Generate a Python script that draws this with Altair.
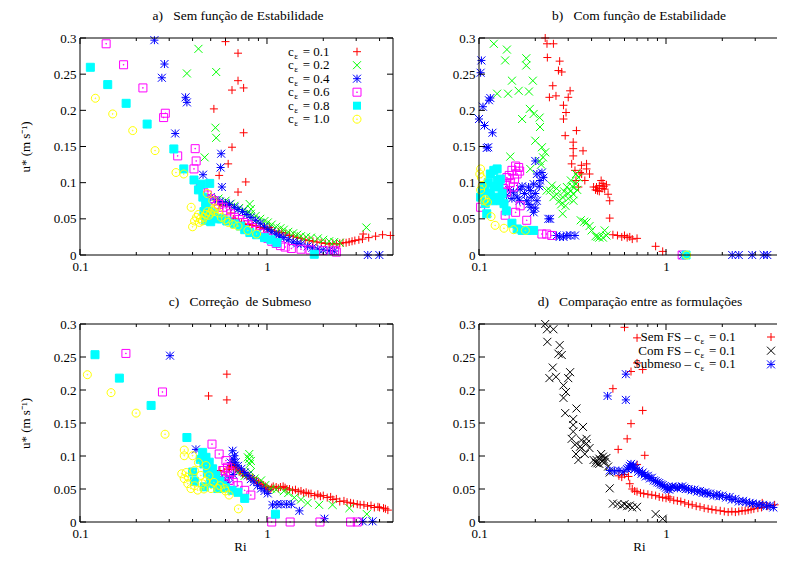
import altair as alt
import pandas as pd

FONT = "Liberation Serif"

# ---------------- data: (Ri, u*) pairs ----------------
# Panel a - without stability function
A_C01 = [(0.60,0.295),(0.70,0.279),(0.70,0.241),(0.65,0.228),(0.75,0.231),(0.52,0.202),(0.75,0.169),
         (0.65,0.149),(0.62,0.126),(0.555,0.110),(0.77,0.101),(0.70,0.087),
         (0.56,0.070),(0.58,0.068),(0.60,0.072),(0.63,0.069),(0.64,0.058),(0.66,0.050),(0.68,0.047),
         (0.70,0.046),(0.73,0.044),(0.76,0.043),(0.80,0.042),(0.84,0.041),(0.88,0.040),(0.92,0.038),
         (0.96,0.037),(1.00,0.036),(1.03,0.038),(1.05,0.035),(1.10,0.033),(1.15,0.032),(1.20,0.031),
         (1.26,0.029),(1.32,0.027),(1.38,0.026),(1.45,0.024),(1.52,0.023),(1.60,0.021),(1.68,0.020),
         (1.76,0.019),(1.85,0.018),(1.95,0.017),(2.05,0.016),(2.15,0.015),(2.25,0.016),(2.35,0.015),
         (2.45,0.016),(2.55,0.017),(2.65,0.017),(2.75,0.018),(2.85,0.019),(2.95,0.020),(3.10,0.021),
         (3.24,0.022),(3.27,0.029),(3.50,0.024),(3.81,0.026),(4.15,0.028),(4.57,0.027)]
A_C02 = [(0.43,0.285),(0.373,0.251),(0.535,0.253),(0.53,0.176),(0.535,0.162),(0.464,0.135),
         (0.808,0.0705),(0.82,0.0636),
         (0.55,0.078),(0.60,0.075),(0.64,0.071),(0.67,0.068),(0.71,0.065),(0.75,0.062),(0.79,0.059),
         (0.82,0.057),(0.87,0.054),(0.92,0.050),(0.97,0.047),(1.01,0.045),(1.06,0.042),(1.12,0.039),
         (1.18,0.037),(1.23,0.035),(1.30,0.032),(1.38,0.030),(1.45,0.028),(1.52,0.026),(1.62,0.025),
         (1.72,0.024),(1.87,0.023),(2.00,0.021),(2.15,0.019),(2.29,0.018),(2.45,0.017),(3.40,0.038)]
A_C04 = [(0.25,0.297),(0.283,0.264),(0.274,0.245),(0.367,0.218),(0.373,0.211),(0.323,0.168),
         (0.569,0.140),(0.565,0.121),(0.574,0.094),(0.455,0.111),
         (0.50,0.080),(0.53,0.076),(0.56,0.074),(0.60,0.072),(0.63,0.070),(0.67,0.066),(0.70,0.063),
         (0.74,0.060),(0.78,0.056),(0.82,0.052),(0.87,0.048),(0.92,0.044),(0.97,0.039),(1.01,0.035),
         (1.06,0.032),(1.12,0.029),(1.17,0.026),(1.23,0.024),(1.30,0.021),(1.38,0.018),(1.45,0.016),
         (1.52,0.015),(1.65,0.012),(1.75,0.010),(1.87,0.008),(2.00,0.007),(2.15,0.006),(2.29,0.0055),
         (3.46,0.0),(3.99,0.0)]
A_C06 = [(0.138,0.292),(0.171,0.263),(0.217,0.231),(0.286,0.196),(0.28,0.190),(0.413,0.147),
         (0.418,0.130),(0.333,0.137),(0.407,0.119),
         (0.44,0.092),(0.46,0.086),(0.48,0.083),(0.50,0.078),(0.52,0.075),(0.55,0.070),(0.58,0.066),
         (0.61,0.061),(0.64,0.057),(0.67,0.052),(0.71,0.049),(0.75,0.045),(0.79,0.042),(0.83,0.038),
         (0.87,0.034),(0.92,0.030),(0.97,0.025),(1.01,0.023),(1.06,0.019),(1.12,0.016),(1.18,0.013),
         (1.25,0.011),(1.35,0.009),(1.52,0.008),(1.70,0.007),(2.00,0.006),(2.30,0.0065),(2.35,0.004)]
A_C08 = [(0.1136,0.2595),(0.1407,0.2356),(0.1765,0.2097),(0.2286,0.181),(0.3176,0.1466),
         (0.359,0.119),(0.407,0.1037),(0.445,0.098),(0.494,0.099),
         (0.43,0.090),(0.454,0.080),(0.47,0.072),(0.473,0.066),(0.49,0.060),(0.50,0.052),(0.52,0.057),
         (0.47,0.048),(0.50,0.046),(0.54,0.050),(0.46,0.060),
         (0.57,0.050),(0.61,0.047),(0.67,0.043),(0.72,0.040),(0.76,0.035),(0.81,0.031),(0.88,0.028),
         (0.97,0.024),(1.05,0.021),(1.13,0.017),(1.79,0.001)]
A_C10 = [(0.1208,0.2167),(0.1496,0.195),(0.1914,0.172),(0.252,0.1443),(0.326,0.114),(0.359,0.112),
         (0.393,0.066),(0.40,0.039),
         (0.479,0.085),(0.513,0.075),(0.42,0.052),(0.43,0.056),(0.44,0.050),(0.45,0.047),(0.46,0.052),
         (0.47,0.056),(0.48,0.060),(0.49,0.055),(0.50,0.058),(0.51,0.062),(0.52,0.060),(0.53,0.064),
         (0.55,0.058),(0.41,0.047),(0.435,0.045),
         (0.57,0.052),(0.60,0.049),(0.62,0.045),(0.66,0.042),(0.70,0.040),(0.79,0.034),(0.88,0.029)]

# Panel b - with stability function
B_C01 = [(0.226,0.300),(0.231,0.292),(0.25,0.292),(0.232,0.273),(0.27,0.268),(0.266,0.255),
         (0.277,0.253),(0.248,0.234),(0.238,0.218),(0.258,0.220),(0.307,0.227),(0.30,0.218),
         (0.283,0.207),(0.292,0.197),(0.283,0.188),(0.289,0.165),(0.332,0.172),(0.319,0.156),
         (0.319,0.147),(0.36,0.144),(0.319,0.137),(0.313,0.126),(0.353,0.124),(0.376,0.126),
         (0.376,0.119),(0.347,0.114),(0.326,0.117),(0.354,0.112),(0.39,0.112),(0.33,0.103),
         (0.368,0.103),(0.34,0.094),(0.41,0.094),(0.425,0.094),(0.43,0.089),(0.44,0.096),(0.45,0.103),
         (0.46,0.099),(0.47,0.091),(0.48,0.097),(0.44,0.088),(0.42,0.090),(0.455,0.092),(0.465,0.095),
         (0.49,0.084),(0.50,0.075),(0.50,0.051),
         (0.52,0.028),(0.55,0.027),(0.58,0.025),(0.60,0.027),(0.62,0.024),(0.64,0.025),(0.66,0.022),
         (0.70,0.023),(0.88,0.012),(0.96,0.005)]
B_C02 = [(0.120,0.292),(0.141,0.284),(0.138,0.269),(0.179,0.272),(0.179,0.262),(0.125,0.223),
         (0.150,0.241),(0.194,0.241),(0.143,0.223),(0.163,0.227),(0.185,0.226),(0.17,0.188),
         (0.187,0.202),(0.196,0.195),(0.211,0.190),(0.212,0.177),(0.20,0.158),(0.217,0.149),
         (0.147,0.136),(0.226,0.142),(0.211,0.130),(0.215,0.125),(0.188,0.119),(0.22,0.135),
         (0.23,0.089),(0.24,0.089),(0.25,0.080),(0.26,0.084),(0.27,0.075),(0.28,0.080),(0.29,0.068),
         (0.28,0.057),(0.295,0.094),(0.31,0.089),(0.31,0.103),(0.32,0.075),(0.33,0.098),(0.33,0.112),
         (0.34,0.107),(0.30,0.085),(0.26,0.092),(0.245,0.096),(0.285,0.088),(0.315,0.095),(0.335,0.090),
         (0.32,0.084),(0.275,0.070),(0.30,0.078),
         (0.35,0.048),(0.365,0.046),(0.376,0.045),(0.39,0.040),(0.40,0.034),(0.42,0.026),(0.44,0.024),
         (0.46,0.024),(0.47,0.034),(0.48,0.027),(0.43,0.025)]
B_C04 = [(0.103,0.269),(0.102,0.252),(0.113,0.214),(0.115,0.217),(0.105,0.205),(0.100,0.188),
         (0.107,0.179),(0.118,0.169),(0.112,0.149),(0.110,0.148),
         (0.20,0.130),(0.204,0.112),(0.212,0.103),(0.196,0.098),(0.184,0.094),(0.166,0.091),(0.153,0.087),
         (0.14,0.082),(0.13,0.077),(0.18,0.075),(0.19,0.066),(0.196,0.059),(0.204,0.075),(0.221,0.107),
         (0.217,0.114),(0.188,0.089),(0.175,0.085),(0.16,0.080),(0.17,0.095),(0.15,0.078),(0.20,0.085),
         (0.21,0.095),(0.19,0.080),(0.185,0.070),(0.20,0.065),(0.165,0.075),(0.145,0.090),
         (0.235,0.050),(0.24,0.050),
         (0.26,0.027),(0.27,0.025),(0.283,0.025),(0.295,0.027),(0.307,0.027),(0.326,0.027),
         (1.23,0.0),(2.26,0.0),(2.45,0.0),(2.89,0.0),(3.33,0.0),(3.48,0.0)]
B_C06 = [(0.102,0.066),(0.157,0.123),(0.15,0.117),(0.141,0.107),(0.138,0.098),(0.147,0.100),
         (0.16,0.112),(0.163,0.121),(0.153,0.094),(0.14,0.087),(0.145,0.110),(0.155,0.105),
         (0.135,0.092),(0.165,0.116),(0.138,0.055),(0.18,0.048),(0.166,0.068),(0.157,0.059),
         (0.217,0.029),(0.23,0.029),(0.245,0.027),(1.22,0.0)]
B_C08 = [(0.104,0.089),(0.102,0.080),(0.108,0.071),(0.110,0.057),(0.115,0.112),(0.120,0.117),
         (0.125,0.119),(0.128,0.094),(0.123,0.080),(0.130,0.075),(0.136,0.071),(0.140,0.061),
         (0.115,0.085),(0.125,0.103),(0.118,0.075),(0.112,0.100),(0.120,0.095),(0.130,0.105),
         (0.107,0.094),(0.133,0.085),(0.15,0.044),(0.17,0.034),(0.18,0.034),(0.196,0.034),
         (0.16,0.036),(1.28,0.0)]
B_C10 = [(0.102,0.119),(0.103,0.107),(0.101,0.112),(0.104,0.096),(0.108,0.077),(0.111,0.073),
         (0.106,0.075),(0.102,0.090),(0.116,0.053),(0.122,0.041),(0.136,0.037),(0.153,0.035),
         (0.177,0.034),(1.29,0.0)]

# Panel c - submeso correction
C_C01 = [(0.61,0.224),(0.487,0.191),(0.61,0.185),
         (0.50,0.078),(0.53,0.077),(0.56,0.078),(0.59,0.076),(0.62,0.080),(0.63,0.082),(0.64,0.085),
         (0.65,0.088),(0.66,0.083),(0.67,0.086),(0.68,0.080),(0.69,0.082),(0.71,0.076),(0.72,0.078),
         (0.74,0.073),(0.75,0.075),(0.77,0.072),(0.78,0.069),(0.80,0.070),(0.82,0.066),(0.84,0.067),
         (0.86,0.063),(0.88,0.062),(0.90,0.060),(0.92,0.059),(0.94,0.057),(0.96,0.056),(0.98,0.054),
         (1.00,0.052),(1.02,0.050),(1.04,0.049),(1.06,0.052),(1.08,0.054),(1.12,0.053),(1.15,0.051),
         (1.18,0.053),(1.22,0.054),(1.25,0.052),(1.28,0.050),(1.32,0.050),(1.37,0.048),(1.42,0.049),
         (1.47,0.046),(1.52,0.047),(1.57,0.044),(1.62,0.045),(1.67,0.043),(1.72,0.043),(1.80,0.040),
         (1.87,0.042),(1.93,0.039),(2.00,0.040),(2.10,0.037),(2.19,0.038),(2.25,0.034),(2.35,0.035),
         (2.45,0.031),(2.58,0.032),(2.68,0.030),(2.80,0.029),(2.90,0.028),(3.04,0.027),(3.15,0.026),
         (3.30,0.026),(3.45,0.024),(3.60,0.025),(3.75,0.022),(3.92,0.023),(4.00,0.022),(4.20,0.021),
         (4.30,0.020),(4.43,0.018)]
C_C02 = [(0.804,0.103),(0.804,0.0955),(0.82,0.0925),(0.79,0.098),(0.81,0.088),
         (0.70,0.075),(0.76,0.070),(0.82,0.0757),(0.86,0.066),(0.93,0.063),(0.98,0.056),(1.05,0.0507),
         (1.12,0.049),(1.23,0.0467),(1.30,0.044),(1.40,0.037),(1.52,0.034),(1.65,0.029),(1.90,0.026),
         (2.24,0.026),(2.76,0.021),(3.42,0.012)]
C_C04 = [(0.303,0.252),(0.417,0.110),(0.655,0.108),(0.67,0.1004),(0.66,0.095),(0.64,0.090),
         (0.58,0.065),(0.60,0.060),(0.63,0.068),(0.66,0.072),(0.62,0.057),(0.56,0.062),
         (0.68,0.0906),(0.70,0.085),(0.73,0.0806),(0.76,0.075),(0.79,0.0706),(0.82,0.065),(0.85,0.0607),
         (0.89,0.055),(0.93,0.0507),(0.97,0.047),(1.01,0.0433),(1.07,0.0259),(1.13,0.027),(1.19,0.0269),
         (1.27,0.027),(1.35,0.0269),(1.49,0.0169),(2.03,0.005),(3.25,0.001),(3.67,0.001)]
C_C06 = [(0.176,0.2554),(0.276,0.197),(0.508,0.118),(0.555,0.103),(0.603,0.093),(0.615,0.083),
         (0.64,0.0757),(0.627,0.063),(0.60,0.070),(0.58,0.078),(0.66,0.060),(0.70,0.055),(0.76,0.048),
         (0.82,0.0408),(1.06,0.0),(1.33,0.0),(1.92,0.0),(2.80,0.0),(3.04,0.0)]
C_C08 = [(0.1203,0.2535),(0.1624,0.218),(0.24,0.1766),(0.373,0.128),(0.453,0.1055),(0.472,0.098),
         (0.491,0.0906),(0.512,0.0806),(0.533,0.0706),(0.502,0.0607),(0.545,0.0507),(0.462,0.0533),
         (0.40,0.0757),(0.409,0.0617),(0.44,0.095),(0.46,0.088),(0.48,0.075),(0.50,0.068),(0.52,0.058),
         (0.56,0.062),(0.58,0.055),(0.60,0.052),(0.65,0.048),(0.70,0.045),(0.76,0.0358),(1.11,0.0119)]
C_C10 = [(0.1095,0.2232),(0.1466,0.196),(0.1995,0.165),(0.285,0.133),(0.361,0.109),(0.361,0.1004),
         (0.40,0.1004),(0.35,0.0731),(0.361,0.0657),(0.377,0.0582),(0.392,0.0507),(0.426,0.0483),
         (0.46,0.050),(0.502,0.0507),(0.545,0.0507),(0.592,0.0507),(0.627,0.0408),(0.703,0.0199),
         (0.443,0.0706),(0.409,0.078),(0.472,0.0855),(0.43,0.090),(0.38,0.068),(0.49,0.070),(0.52,0.060),
         (0.41,0.055),(0.47,0.062),(0.56,0.055),(0.60,0.047),(0.45,0.058),(0.37,0.075)]

# Panel d - comparison (same runs as a, b, c with c_eps = 0.1)
D_SEMFS = A_C01
D_COMFS = B_C01
D_SUBMESO = C_C01

# ---------------- axes / styling values ----------------
X_LABELS = [0.1, 1]
X_MAJOR = [0.1, 1]
X_MINOR = [0.2, 0.3, 0.4, 0.5, 0.6, 0.7, 0.8, 0.9, 2, 3, 4]
Y_TICKS = [0, 0.05, 0.1, 0.15, 0.2, 0.25, 0.3]

PLUS = "M-1,0H1M0,-1V1"
CROSS = "M-1,-1L1,1M-1,1L1,-1"
STAR = "M-1,0H1M0,-1V1M-1,-1L1,1M-1,1L1,-1"
BOXDOT = "M-1,-1H1V1H-1Z M-0.08,-0.08H0.08V0.08H-0.08Z"
CIRC = ("M1,0A1,1,0,1,1,-1,0A1,1,0,1,1,1,0Z "
        "M0.1,0A0.1,0.1,0,1,1,-0.1,0A0.1,0.1,0,1,1,0.1,0Z")

KEYS = ["c01", "c02", "c04", "c06", "c08", "c10", "semfs", "comfs", "submeso"]
COLS = ["#ff0000", "#00ff00", "#0000ff", "#ff00ff", "#00ffff", "#ffff00", "#ff0000", "#000000", "#0000ff"]
SHAPES = [PLUS, CROSS, STAR, BOXDOT, "square", CIRC, PLUS, CROSS, STAR]
FILLS = ["transparent"] * 4 + ["#00ffff"] + ["transparent"] * 4
COL = dict(zip(KEYS, COLS))
SHP = dict(zip(KEYS, SHAPES))
FIL = dict(zip(KEYS, FILLS))

YTITLE = "u* (m s\u207b\u00b9)"
NB = "\u00a0"


def panel(series, title, title_x, w, h, xmax, legend, xtitle, ytitle, closed):
    rows = [{"s": k, "ri": r, "u": u} for k, pts in series for r, u in pts]
    df = pd.DataFrame(rows)
    xs = alt.Scale(type="log", domain=[0.1, xmax], nice=False)
    ys = alt.Scale(domain=[0, 0.3], nice=False, zero=False)
    common = dict(ticks=False, tickSize=0, domain=False, grid=False, labelFont=FONT,
                  labelFontSize=13, labelColor="black", titleFont=FONT, titleFontSize=13,
                  titleFontWeight="normal", titleColor="black", format="~g")
    xax = alt.Axis(values=X_LABELS, labelPadding=5, titlePadding=0, labelFlush=False,
                   titleX=160, **common)
    yax = alt.Axis(values=Y_TICKS, labelPadding=4, titlePadding=21, **common)

    def X(field):
        return alt.X(field, scale=xs, axis=xax, title=xtitle)

    def Y(field):
        return alt.Y(field, scale=ys, axis=yax, title=ytitle)

    limit = xmax * 0.985
    pts = alt.Chart(df).transform_filter(alt.datum.ri <= limit).mark_point(
        size=64, strokeWidth=1, opacity=1).encode(
        x=X("ri:Q"), y=Y("u:Q"),
        shape=alt.Shape("s:N", scale=alt.Scale(domain=KEYS, range=SHAPES), legend=None),
        stroke=alt.Stroke("s:N", scale=alt.Scale(domain=KEYS, range=COLS), legend=None),
        fill=alt.Fill("s:N", scale=alt.Scale(domain=KEYS, range=FILLS), legend=None),
    )
    layers = [pts]
    one = pd.DataFrame({"k": [0]})

    # frame
    rule = dict(color="black", strokeWidth=1)
    layers.append(alt.Chart(one).mark_rule(**rule).encode(
        x=alt.value(0), x2=alt.value(w), y=alt.value(0)))
    layers.append(alt.Chart(one).mark_rule(**rule).encode(
        x=alt.value(0), x2=alt.value(w), y=alt.value(h)))
    layers.append(alt.Chart(one).mark_rule(**rule).encode(
        x=alt.value(0), y=alt.value(0), y2=alt.value(h)))
    if closed:
        layers.append(alt.Chart(one).mark_rule(**rule).encode(
            x=alt.value(w), y=alt.value(0), y2=alt.value(h)))

    # inward ticks
    for vals, ln in ((X_MAJOR, 6), (X_MINOR, 3)):
        d = pd.DataFrame({"ri": [v for v in vals if v <= xmax]})
        layers.append(alt.Chart(d).mark_rule(**rule).encode(
            x=X("ri:Q"), y=alt.value(h), y2=alt.value(h - ln)))
        layers.append(alt.Chart(d).mark_rule(**rule).encode(
            x=X("ri:Q"), y=alt.value(0), y2=alt.value(ln)))
    d = pd.DataFrame({"u": Y_TICKS})
    layers.append(alt.Chart(d).mark_rule(**rule).encode(
        y=Y("u:Q"), x=alt.value(0), x2=alt.value(6)))
    if closed:
        layers.append(alt.Chart(d).mark_rule(**rule).encode(
            y=Y("u:Q"), x=alt.value(w), x2=alt.value(w - 6)))

    # panel title
    layers.append(alt.Chart(one).mark_text(align="center", baseline="middle", font=FONT,
                                           fontSize=13.5, color="black").encode(
        x=alt.value(title_x), y=alt.value(-22), text=alt.value(title)))

    # in-plot legend (text, subscript epsilon, value, symbol)
    xe, xsym, y0, dy = legend["xe"], legend["xsym"], legend["y0"], legend["dy"]
    for i, (key, pre, suf) in enumerate(legend["rows"]):
        yy = y0 + i * dy
        layers.append(alt.Chart(one).mark_text(align="right", baseline="middle", font=FONT,
                                               fontSize=13, color="black").encode(
            x=alt.value(xe), y=alt.value(yy), text=alt.value(pre)))
        layers.append(alt.Chart(one).mark_text(align="left", baseline="middle", font=FONT,
                                               fontSize=9, color="black").encode(
            x=alt.value(xe + 0.5), y=alt.value(yy + 4), text=alt.value("\u03b5")))
        layers.append(alt.Chart(one).mark_text(align="left", baseline="middle", font=FONT,
                                               fontSize=13, color="black").encode(
            x=alt.value(xe + 9), y=alt.value(yy), text=alt.value(suf)))
        filled = FIL[key] != "transparent"
        layers.append(alt.Chart(one).mark_point(shape=SHP[key], size=64, strokeWidth=1, opacity=1,
                                                filled=filled, color=COL[key]).encode(
            x=alt.value(xsym), y=alt.value(yy)))

    return alt.layer(*layers).properties(width=w, height=h)


W_L, W_R = 313, 298
H_T, H_B = 217, 198
XMAX_L = 4.72
XMAX_R = 0.1 * 10 ** (W_R / 187.0)

leg_a = {"xe": 213.7, "xsym": 277, "y0": 13.7, "dy": 13.5,
         "rows": [("c01", "c", "= 0.1"), ("c02", "c", "= 0.2"), ("c04", "c", "= 0.4"),
                  ("c06", "c", "= 0.6"), ("c08", "c", "= 0.8"), ("c10", "c", "= 1.0")]}
leg_none = {"xe": 0, "xsym": 0, "y0": 0, "dy": 0, "rows": []}
leg_d = {"xe": 221, "xsym": 292, "y0": 13, "dy": 13.7,
         "rows": [("semfs", "Sem FS \u2013 c", "= 0.1"), ("comfs", "Com FS \u2013 c", "= 0.1"),
                  ("submeso", "Submeso \u2013 c", "= 0.1")]}

pa = panel([("c01", A_C01), ("c02", A_C02), ("c04", A_C04), ("c06", A_C06), ("c08", A_C08), ("c10", A_C10)],
           "a)" + NB * 3 + "Sem função de Estabilidade", 158, W_L, H_T, XMAX_L, leg_a, None, YTITLE, True)
pb = panel([("c01", B_C01), ("c02", B_C02), ("c04", B_C04), ("c06", B_C06), ("c08", B_C08), ("c10", B_C10)],
           "b)" + NB * 3 + "Com função de Estabilidade", 160, W_R, H_T, XMAX_R, leg_none, None, None, False)
pc = panel([("c01", C_C01), ("c02", C_C02), ("c04", C_C04), ("c06", C_C06), ("c08", C_C08), ("c10", C_C10)],
           "c)" + NB * 3 + "Correção" + NB * 2 + "de Submeso", 160, W_L, H_B, XMAX_L, leg_none, "Ri", YTITLE, True)
pd_ = panel([("semfs", D_SEMFS), ("comfs", D_COMFS), ("submeso", D_SUBMESO)],
            "d)" + NB * 3 + "Comparação entre as formulações", 161, W_R, H_B, XMAX_R, leg_d, "Ri", None, False)

chart = alt.concat(pa, pb, pc, pd_, columns=2, spacing={"row": 69, "column": 86}, bounds="flush").properties(
    padding={"left": 10, "top": 0, "right": 0, "bottom": 0}, background="white"
).configure_view(stroke="transparent")

chart.save("out.html", embed_options={"renderer": "svg", "actions": False})
